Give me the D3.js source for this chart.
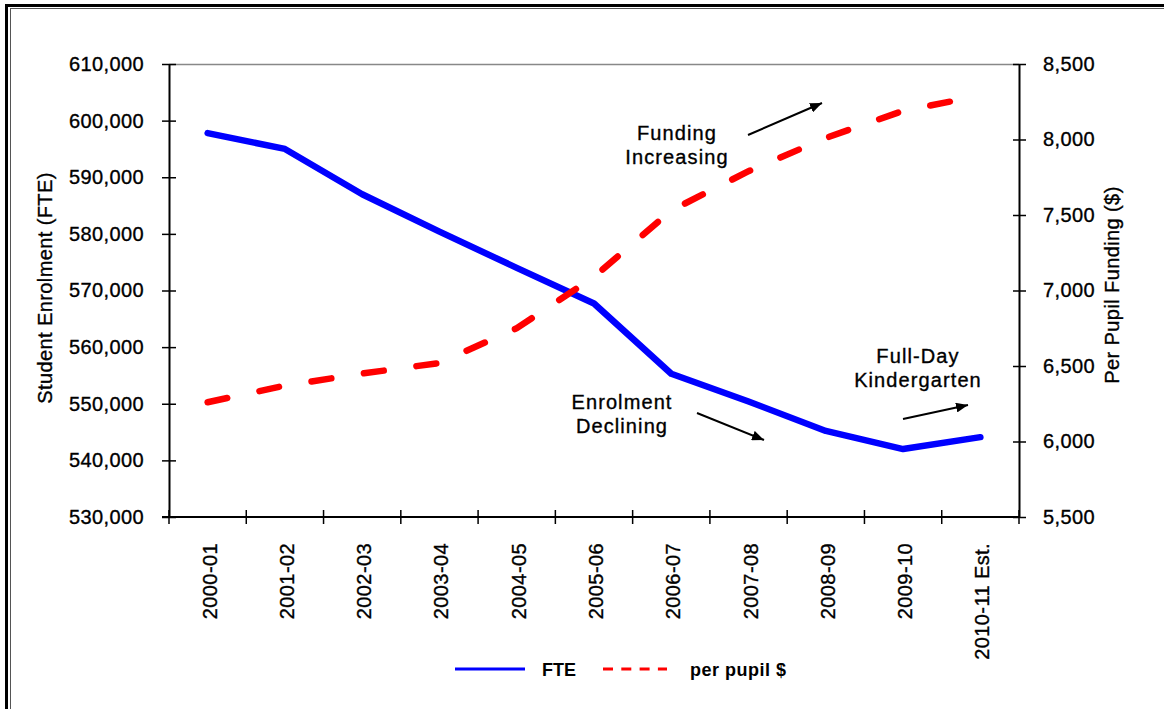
<!DOCTYPE html>
<html>
<head>
<meta charset="utf-8">
<script src="https://cdn.jsdelivr.net/npm/d3@7"></script>
<style>
  html, body { margin: 0; padding: 0; background: #fff; }
  svg { display: block; }
  text { font-family: "Liberation Sans", Arial, sans-serif; fill: #000; }
  .heavy { stroke: #000; stroke-width: 0.35px; }
</style>
</head>
<body>
<svg id="chart" width="1164" height="709"></svg>
<script>
// ---- data ----
const categories = ["2000-01","2001-02","2002-03","2003-04","2004-05","2005-06","2006-07","2007-08","2008-09","2009-10","2010-11 Est."];
const fteValues = [597800, 595000, 587000, 580400, 574000, 567700, 555300, 550400, 545200, 542000, 544100];
const perPupilValues = [6260, 6370, 6450, 6520, 6750, 7090, 7530, 7790, 8010, 8190, 8290];
const leftTicks = [530000, 540000, 550000, 560000, 570000, 580000, 590000, 600000, 610000];
const rightTicks = [5500, 6000, 6500, 7000, 7500, 8000, 8500];
const leftTitle = "Student Enrolment (FTE)";
const rightTitle = "Per Pupil Funding ($)";
const legendLabels = ["FTE", "per pupil $"];
const annotations = [
  { lines: ["Funding", "Increasing"], x: 677, y: 140, arrow: [748, 135, 822, 103] },
  { lines: ["Enrolment", "Declining"], x: 622, y: 409, arrow: [697, 413, 764, 440] },
  { lines: ["Full-Day", "Kindergarten"], x: 918, y: 363, arrow: [903, 419, 968, 405] }
];

// ---- layout ----
const svg = d3.select("#chart");
const L = 169, R = 1019, T = 64, B = 517;

// outer double border (top and left visible)
svg.append("rect").attr("x", 6.5).attr("y", 5.5).attr("width", 1200).attr("height", 800)
  .attr("fill", "none").attr("stroke", "#000").attr("stroke-width", 3);
svg.append("rect").attr("x", 10.5).attr("y", 8.5).attr("width", 1200).attr("height", 800)
  .attr("fill", "none").attr("stroke", "#555").attr("stroke-width", 1);

const x = d3.scaleBand().domain(categories).range([L, R]).padding(0);
const yL = d3.scaleLinear().domain([530000, 610000]).range([B, T]);
const yR = d3.scaleLinear().domain([5500, 8500]).range([B, T]);
const fmt = d3.format(",");

// top frame line
svg.append("line").attr("x1", L).attr("x2", R).attr("y1", T + 0.5).attr("y2", T + 0.5)
  .attr("stroke", "#888").attr("stroke-width", 1.5);

// left axis
const gL = svg.append("g").attr("transform", `translate(${L},0)`)
  .call(d3.axisLeft(yL).tickValues(leftTicks).tickFormat(fmt).tickSizeInner(7).tickSizeOuter(0).tickPadding(18));
gL.selectAll(".tick line").attr("x1", 7);
gL.select(".domain").attr("stroke-width", 2);
gL.selectAll(".tick line").attr("stroke-width", 1.5);
gL.selectAll("text").attr("class", "heavy").style("font-size", "20px").style("letter-spacing", "0.4px").attr("font-family", null);

// right axis
const gR = svg.append("g").attr("transform", `translate(${R},0)`)
  .call(d3.axisRight(yR).tickValues(rightTicks).tickFormat(fmt).tickSizeInner(7).tickSizeOuter(0).tickPadding(17));
gR.selectAll(".tick line").attr("x1", -6);
gR.select(".domain").attr("stroke-width", 2);
gR.selectAll(".tick line").attr("stroke-width", 1.5);
gR.selectAll("text").attr("class", "heavy").style("font-size", "20px").style("letter-spacing", "0.4px").attr("font-family", null);

// bottom axis (ticks at category boundaries)
const boundaries = categories.map(c => x(c)).concat([x.range()[1]]);
const gB = svg.append("g");
gB.append("line").attr("x1", L - 7).attr("x2", R).attr("y1", B).attr("y2", B)
  .attr("stroke", "#000").attr("stroke-width", 2);
gB.selectAll("line.tk").data(boundaries).join("line").attr("class", "tk")
  .attr("x1", d => d).attr("x2", d => d).attr("y1", B - 7).attr("y2", B + 7)
  .attr("stroke", "#000").attr("stroke-width", 1.5);
gB.selectAll("text").data(categories).join("text").attr("class", "heavy")
  .attr("transform", d => `translate(${x(d) + x.bandwidth() / 2 + 2},${B + 26}) rotate(-90)`)
  .attr("text-anchor", "end").attr("dy", "0.35em")
  .style("font-size", "20px").style("letter-spacing", "0.4px")
  .text(d => d);

// axis titles
svg.append("text").attr("class", "heavy").attr("transform", `translate(52,288) rotate(-90)`)
  .attr("text-anchor", "middle").style("font-size", "20px").style("letter-spacing", "0.4px").text(leftTitle);
svg.append("text").attr("class", "heavy").attr("transform", `translate(1119,285) rotate(-90)`)
  .attr("text-anchor", "middle").style("font-size", "20px").style("letter-spacing", "0.4px").text(rightTitle);

// lines
const cx = d => x(d) + x.bandwidth() / 2;
const lineL = d3.line().x((d, i) => cx(categories[i])).y(d => yL(d));
const lineR = d3.line().x((d, i) => cx(categories[i])).y(d => yR(d));

svg.append("path").datum(fteValues).attr("d", lineL)
  .attr("fill", "none").attr("stroke", "#0000ff").attr("stroke-width", 6.5)
  .attr("stroke-linejoin", "round").attr("stroke-linecap", "round");
svg.append("path").datum(perPupilValues).attr("d", lineR)
  .attr("fill", "none").attr("stroke", "#ff0000").attr("stroke-width", 6.5)
  .attr("stroke-dasharray", "20,33").attr("stroke-linecap", "round");

// arrows
svg.append("defs").append("marker").attr("id", "ah")
  .attr("viewBox", "0 0 12 10").attr("refX", 12).attr("refY", 5)
  .attr("markerWidth", 12).attr("markerHeight", 10).attr("markerUnits", "userSpaceOnUse")
  .attr("orient", "auto")
  .append("path").attr("d", "M0,0 L12,5 L0,10 Z").attr("fill", "#000");

annotations.forEach(a => {
  const t = svg.append("text").attr("class", "heavy").attr("text-anchor", "middle")
    .style("font-size", "20px").style("letter-spacing", "1.1px");
  a.lines.forEach((ln, i) => {
    t.append("tspan").attr("x", a.x).attr("y", a.y + i * 24).text(ln);
  });
  svg.append("line").attr("x1", a.arrow[0]).attr("y1", a.arrow[1])
    .attr("x2", a.arrow[2]).attr("y2", a.arrow[3])
    .attr("stroke", "#000").attr("stroke-width", 2).attr("marker-end", "url(#ah)");
});

// legend
const lg = svg.append("g");
lg.append("line").attr("x1", 455).attr("x2", 525).attr("y1", 669).attr("y2", 669)
  .attr("stroke", "#0000ff").attr("stroke-width", 3);
lg.append("text").attr("x", 542).attr("y", 676).style("font-size", "18px").style("font-weight", "bold")
  .text(legendLabels[0]);
lg.append("line").attr("x1", 603).attr("x2", 667).attr("y1", 669).attr("y2", 669)
  .attr("stroke", "#ff0000").attr("stroke-width", 3).attr("stroke-dasharray", "10,8.3");
lg.append("text").attr("x", 690).attr("y", 676).style("font-size", "18px").style("font-weight", "bold")
  .style("letter-spacing", "0.5px").text(legendLabels[1]);
</script>
</body>
</html>
